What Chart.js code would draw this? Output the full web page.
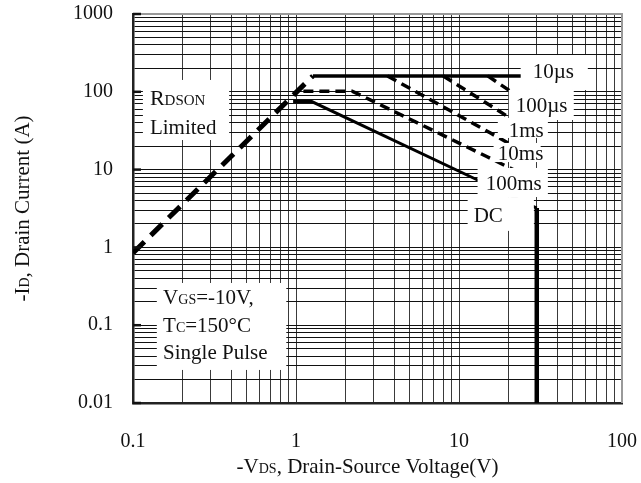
<!DOCTYPE html>
<html>
<head>
<meta charset="utf-8">
<script src="https://cdn.jsdelivr.net/npm/chart.js@4.4.1/dist/chart.umd.min.js"></script>
<style>
  body { margin: 0; background: #fff; }
  canvas { display: block; }
</style>
</head>
<body>
<canvas id="soaChart" width="641" height="483"></canvas>
<script>
// axis ranges and tick labels
const xMajor = [0.1, 1, 10, 100];
const yMajor = [0.01, 0.1, 1, 10, 100, 1000];
const minorSteps = [1, 2, 3, 4, 5, 6, 7, 8, 9];

// SOA boundary lines, [VDS, ID]
const rdsonLine = [[0.1, 0.85], [1.27, 160]];
const line10us = [[1.27, 160], [30, 160]];
const line100us = [[15, 160], [20.2, 105], [30, 60]];
const line1ms = [[8, 160], [18, 55], [30, 27.4]];
const line10ms = [[3.64, 160], [15.6, 29.5], [30, 13.7]];
const line100ms = [[1.11, 102], [2.21, 102], [15, 14.5], [30, 7.1]];
const lineDC = [[0.96, 75], [1.25, 75], [13, 7.35], [30, 3.2]];
const lineVdss = [[30, 3.2], [30, 0.01]];

// text labels (data coordinates) and their white boxes
const labelBoxes = [
  { x1: 23.9, x2: 61.7, y1: 105.5, y2: 297 },
  { x1: 20.2, x2: 50.6, y1: 43.4, y2: 105.5 },
  { x1: 17.3, x2: 35.1, y1: 25.5, y2: 46.1 },
  { x1: 16.3, x2: 31.7, y1: 12.5, y2: 22 },
  { x1: 13, x2: 35.1, y1: 4.44, y2: 10.5 },
  { x1: 11.3, x2: 28.8, y1: 1.63, y2: 4.44 },
  { x1: 0.115, x2: 0.389, y1: 24, y2: 142 },
  { x1: 0.14, x2: 0.872, y1: 0.0266, y2: 0.349 }
];
const labelTexts = [
  { x: 28.3, y: 185, parts: [["10µs", 21]] },
  { x: 22.3, y: 67.6, parts: [["100µs", 21]] },
  { x: 20.2, y: 32.3, parts: [["1ms", 21]] },
  { x: 17.3, y: 16.3, parts: [["10ms", 21]] },
  { x: 14.6, y: 6.73, parts: [["100ms", 21]] },
  { x: 12.3, y: 2.61, parts: [["DC", 21]] },
  { x: 0.127, y: 83.2, parts: [["R", 22], ["DSON", 15]] },
  { x: 0.127, y: 35.3, parts: [["Limited", 21]] },
  { x: 0.153, y: 0.23, parts: [["V", 21], ["GS", 14], ["=-10V,", 21]] },
  { x: 0.153, y: 0.1006, parts: [["T", 21], ["C", 14], ["=150°C", 21]] },
  { x: 0.153, y: 0.0452, parts: [["Single Pulse", 21]] }
];
const yTitle = [["-I", 21], ["D", 14], [", Drain Current (A)", 21]];
const xTitle = [["-V", 21], ["DS", 14], [", Drain-Source Voltage(V)", 21]];

const FONT = "'Liberation Serif', 'Times New Roman', serif";

function gridValues(majors) {
  const vals = [];
  for (let i = 0; i < majors.length - 1; i++) {
    minorSteps.forEach(s => vals.push(majors[i] * s));
  }
  vals.push(majors[majors.length - 1]);
  return vals;
}

function toPoints(arr) {
  return arr.map(p => ({ x: p[0], y: p[1] }));
}

function drawParts(ctx, parts, x, y) {
  let cx = x;
  parts.forEach(([str, size]) => {
    ctx.font = size + "px " + FONT;
    ctx.fillText(str, cx, y);
    cx += ctx.measureText(str).width;
  });
  return cx - x;
}

function partsWidth(ctx, parts) {
  let w = 0;
  parts.forEach(([str, size]) => {
    ctx.font = size + "px " + FONT;
    w += ctx.measureText(str).width;
  });
  return w;
}

const annotations = {
  id: "annotations",
  afterDatasetsDraw(chart) {
    const { ctx, chartArea, scales: { x, y } } = chart;
    ctx.save();
    ctx.beginPath();
    ctx.rect(chartArea.left, chartArea.top, chartArea.width, chartArea.height);
    ctx.clip();
    ctx.fillStyle = "#fff";
    labelBoxes.forEach(b => {
      const l = x.getPixelForValue(b.x1), r = x.getPixelForValue(b.x2);
      const t = y.getPixelForValue(b.y2), bt = y.getPixelForValue(b.y1);
      ctx.fillRect(l, t, r - l, bt - t);
    });
    ctx.restore();

    ctx.save();
    ctx.fillStyle = "#111";
    ctx.textBaseline = "alphabetic";
    labelTexts.forEach(t => {
      const px = x.getPixelForValue(t.x);
      const py = y.getPixelForValue(t.y) + 7;
      drawParts(ctx, t.parts, px, py);
    });
    ctx.restore();
  },
  afterDraw(chart) {
    const { ctx, chartArea } = chart;
    const ys = chart.scales.y;
    ctx.save();
    // top and right frame
    ctx.strokeStyle = "#999";
    ctx.lineWidth = 2;
    ctx.beginPath();
    ctx.moveTo(chartArea.left, chartArea.top);
    ctx.lineTo(chartArea.right, chartArea.top);
    ctx.lineTo(chartArea.right, chartArea.bottom);
    ctx.stroke();
    // short inward ticks at decades
    ctx.strokeStyle = "#111";
    ctx.lineWidth = 2.5;
    yMajor.forEach(v => {
      const py = ys.getPixelForValue(v);
      ctx.beginPath();
      ctx.moveTo(chartArea.left, py);
      ctx.lineTo(chartArea.left + 8, py);
      ctx.stroke();
    });
    // axis titles
    ctx.fillStyle = "#111";
    ctx.textBaseline = "alphabetic";
    const xw = partsWidth(ctx, xTitle);
    drawParts(ctx, xTitle, (chartArea.left + chartArea.right) / 2 - 10 - xw / 2, 473);
    const yw = partsWidth(ctx, yTitle);
    ctx.translate(29, (chartArea.top + chartArea.bottom) / 2);
    ctx.rotate(-Math.PI / 2);
    drawParts(ctx, yTitle, -yw / 2, 0);
    ctx.restore();
  }
};

const solid = (data, w) => ({
  data: toPoints(data), borderColor: "#000", borderWidth: w,
  pointRadius: 0, fill: false, tension: 0
});
const dashed = (data, w, dash) => Object.assign(solid(data, w), { borderDash: dash });

new Chart(document.getElementById("soaChart"), {
  type: "line",
  data: {
    datasets: [
      dashed(rdsonLine, 5, [16, 9]),
      solid(line10us, 3.5),
      dashed(line100us, 3.5, [10, 6]),
      dashed(line1ms, 3.5, [10, 6]),
      dashed(line10ms, 3.5, [10, 6]),
      dashed(line100ms, 3.5, [10, 6]),
      solid(lineDC, 3),
      solid(lineVdss, 4.5)
    ]
  },
  options: {
    responsive: false,
    animation: false,
    layout: { padding: { top: 14, right: 19, left: 0, bottom: 0 } },
    plugins: { legend: { display: false }, tooltip: { enabled: false } },
    scales: {
      x: {
        type: "logarithmic",
        min: 0.1, max: 100,
        afterBuildTicks: s => { s.ticks = gridValues(xMajor).map(v => ({ value: v })); },
        afterFit: s => {
          s.height = 80;
          s.paddingLeft = 0; s.paddingRight = 0;
        },
        border: { color: "#222", width: 2.5 },
        grid: { color: "#3a3a3a", lineWidth: 1, drawTicks: false },
        ticks: {
          autoSkip: false, maxRotation: 0, padding: 27, color: "#111",
          font: { family: FONT, size: 20 },
          callback: v => xMajor.includes(v) ? String(v) : ""
        }
      },
      y: {
        type: "logarithmic",
        min: 0.01, max: 1000,
        afterBuildTicks: s => { s.ticks = gridValues(yMajor).map(v => ({ value: v })); },
        afterFit: s => {
          s.width = 133;
          s.paddingTop = 0; s.paddingBottom = 0;
        },
        border: { color: "#222", width: 2.5 },
        grid: { color: "#111", lineWidth: 1, drawTicks: false },
        ticks: {
          autoSkip: false, padding: 20, color: "#111",
          font: { family: FONT, size: 20 },
          callback: v => yMajor.includes(v) ? String(v) : ""
        }
      }
    }
  },
  plugins: [annotations]
});
</script>
</body>
</html>
